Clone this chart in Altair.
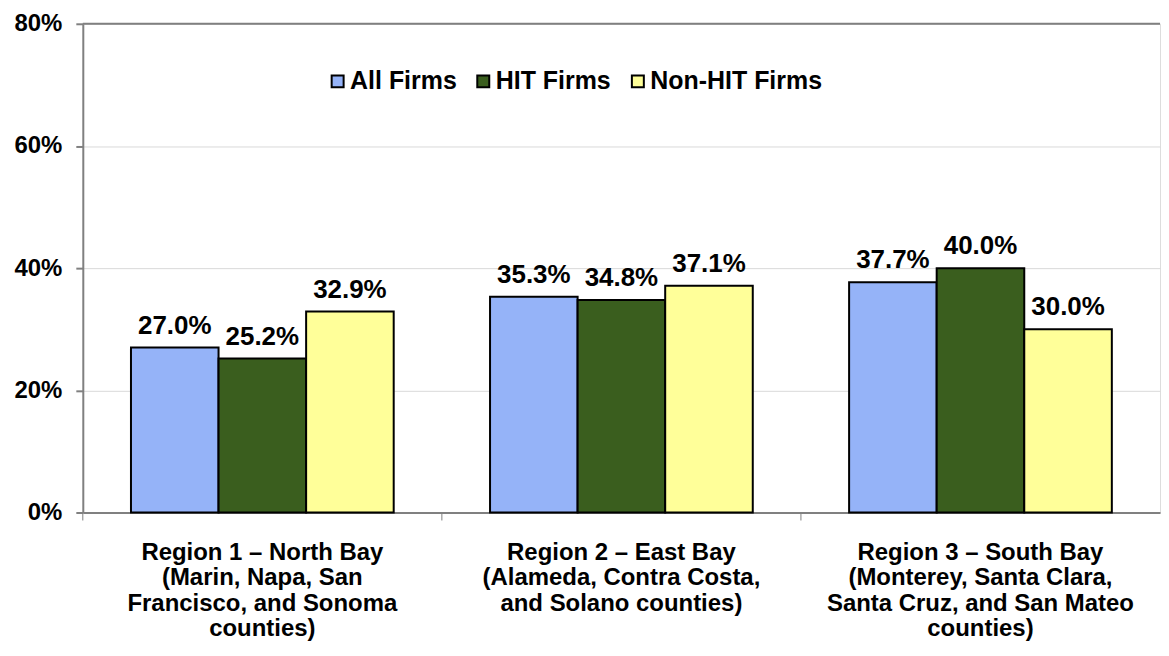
import altair as alt
import pandas as pd

regions = [
    "Region 1 – North Bay|(Marin, Napa, San|Francisco, and Sonoma|counties)",
    "Region 2 – East Bay|(Alameda, Contra Costa,|and Solano counties)",
    "Region 3 – South Bay|(Monterey, Santa Clara,|Santa Cruz, and San Mateo|counties)",
]
series = ["All Firms", "HIT Firms", "Non-HIT Firms"]
all_firms = [27.0, 35.3, 37.7]
hit_firms = [25.2, 34.8, 40.0]
non_hit_firms = [32.9, 37.1, 30.0]
colors = ["#95B3F8", "#3A5E1E", "#FFFF99"]
y_ticks = [0, 20, 40, 60, 80]

rows = []
for vals, s in zip([all_firms, hit_firms, non_hit_firms], series):
    for r, v in zip(regions, vals):
        rows.append({"region": r, "series": s, "value": v})
df = pd.DataFrame(rows)

FONT = "Liberation Sans"

x_enc = alt.X(
    "region:N",
    sort=regions,
    scale=alt.Scale(paddingInner=0, paddingOuter=0),
    axis=alt.Axis(
        title=None,
        labelAngle=0,
        labelExpr="split(datum.value, '|')",
        labelFont=FONT,
        labelFontSize=24,
        labelFontWeight="bold",
        labelColor="black",
        labelLineHeight=25.5,
        labelPadding=28,
        labelLimit=400,
        ticks=False,
        domainColor="#808080",
        domainWidth=2,
    ),
)
xoff = alt.XOffset("series:N", sort=series, scale=alt.Scale(paddingInner=0, paddingOuter=0.55))
y_enc = alt.Y(
    "value:Q",
    scale=alt.Scale(domain=[0, 80], nice=False),
    axis=alt.Axis(
        title=None,
        values=y_ticks,
        labelExpr="datum.value + '%'",
        labelFont=FONT,
        labelFontSize=24,
        labelFontWeight="bold",
        labelColor="black",
        labelPadding=14,
        tickSize=7,
        tickColor="#808080",
        tickWidth=2,
        domainColor="#808080",
        domainWidth=2,
        grid=True,
        gridColor="#D9D9D9",
        gridWidth=1,
    ),
)

base = alt.Chart(df)

bars = base.mark_bar(stroke="black", strokeWidth=2).encode(
    x=x_enc,
    xOffset=xoff,
    y=y_enc,
    color=alt.Color(
        "series:N",
        sort=series,
        scale=alt.Scale(domain=series, range=colors),
        legend=alt.Legend(
            title=None,
            orient="none",
            legendX=243,
            legendY=45,
            direction="horizontal",
            symbolType="square",
            symbolSize=144,
            symbolStrokeColor="black",
            symbolStrokeWidth=2,
            labelFont=FONT,
            labelFontSize=25,
            labelFontWeight="bold",
            labelColor="black",
            labelOffset=0,
            columnPadding=14,
            labelLimit=400,
        ),
    ),
)

labels = base.transform_calculate(
    label="format(datum.value, '.1f') + '%'"
).mark_text(
    baseline="bottom", dy=-9, font=FONT, fontSize=26, fontWeight="bold", color="black"
).encode(
    x=alt.X("region:N", sort=regions),
    xOffset=alt.XOffset("series:N", sort=series),
    y="value:Q",
    text="label:N",
)

ticks = alt.Chart(pd.DataFrame({"region": regions})).mark_rule(
    color="#808080", strokeWidth=1
).encode(
    x=alt.X("region:N", sort=regions, bandPosition=0),
    y=alt.value(491),
    y2=alt.value(498),
)

top_rule = alt.Chart(pd.DataFrame({"v": [80]})).mark_rule(
    color="#808080", strokeWidth=2
).encode(y="v:Q")

chart = alt.layer(bars, labels, ticks, top_rule).properties(
    width=1080,
    height=490,
    padding={"left": 5, "top": 3, "right": 0, "bottom": 0},
).configure_view(stroke="#D9D9D9", strokeWidth=1).configure(background="white")

chart.save("out.html", embed_options={"renderer": "svg", "actions": False})
